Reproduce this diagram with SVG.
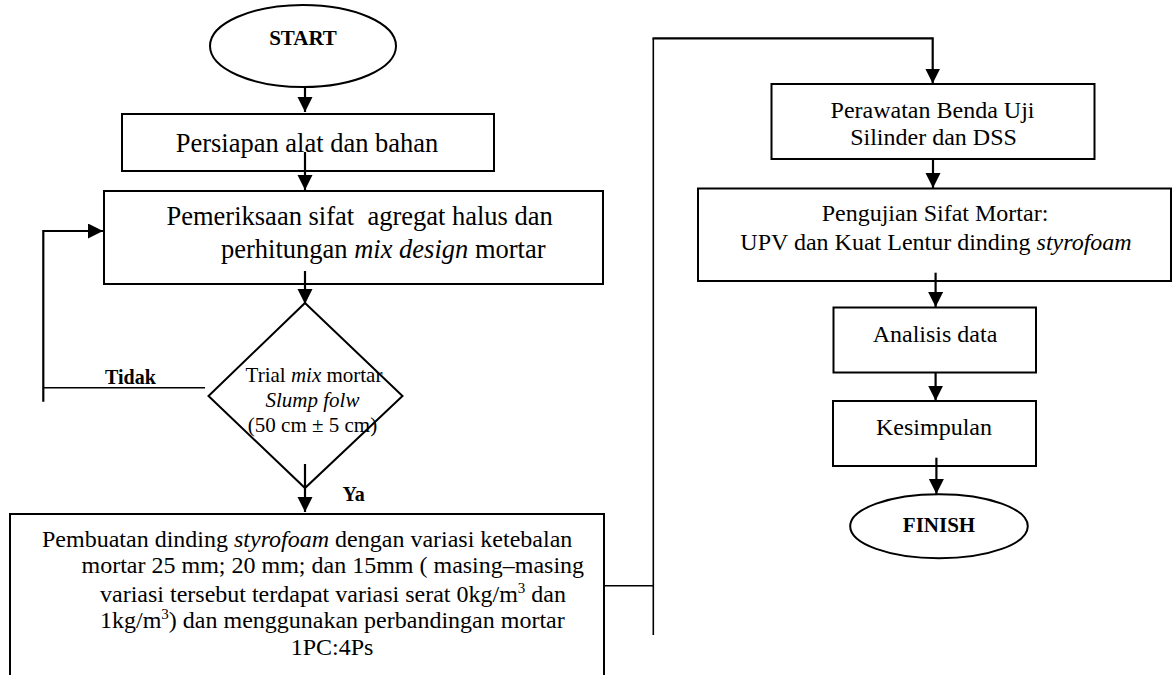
<svg xmlns="http://www.w3.org/2000/svg" width="1172" height="675" viewBox="0 0 1172 675">
<style>
  .shape { fill: #ffffff; stroke: #000000; stroke-width: 2; }
  .conn { fill: none; stroke: #000000; stroke-width: 2.2; }
  .thin { fill: none; stroke: #000000; stroke-width: 1.6; }
  text { font-family: "Liberation Serif", "Times New Roman", serif; fill: #000000; }
  .b { font-weight: bold; }
  .i { font-style: italic; }
  .pre { white-space: pre; }
</style>
<defs>
  <marker id="arrow" markerUnits="userSpaceOnUse" markerWidth="16" markerHeight="16" refX="15" refY="7.5" orient="auto" viewBox="0 0 16 16">
    <path d="M0,0 L15,7.5 L0,15 Z" fill="#000000"/>
  </marker>
</defs>
<rect width="1172" height="675" fill="#ffffff"/>

<g id="start">
  <ellipse class="shape" cx="303" cy="46" rx="93" ry="41"/>
  <text x="303" y="45" font-size="21" class="b" text-anchor="middle">START</text>
</g>

<g id="persiapan">
  <rect class="shape" x="122" y="114" width="372" height="57"/>
  <text x="307" y="152" font-size="26.5" text-anchor="middle">Persiapan alat dan bahan</text>
</g>

<g id="pemeriksaan">
  <rect class="shape" x="104" y="191" width="499" height="93"/>
  <text x="166.5" y="225" font-size="26.5" class="pre">Pemeriksaan sifat  agregat halus dan</text>
  <text x="221" y="258" font-size="26.5">perhitungan <tspan class="i">mix design</tspan> mortar</text>
</g>

<g id="trial">
  <polygon class="shape" points="305,303 402.5,396 305,488 208.5,396"/>
  <text x="314" y="381.7" font-size="21" text-anchor="middle">Trial <tspan class="i">mix</tspan> mortar</text>
  <text x="312.5" y="407" font-size="21" class="i" text-anchor="middle">Slump folw</text>
  <text x="312.5" y="431.7" font-size="21" text-anchor="middle">(50 cm ± 5 cm)</text>
</g>

<g id="pembuatan">
  <rect class="shape" x="10" y="514" width="594" height="200"/>
  <text x="42" y="546.7" font-size="24">Pembuatan dinding <tspan class="i">styrofoam</tspan> dengan variasi ketebalan</text>
  <text x="81.5" y="573.3" font-size="24">mortar 25 mm; 20 mm; dan 15mm ( masing–masing</text>
  <text x="100" y="601.7" font-size="24">variasi tersebut terdapat variasi serat 0kg/m<tspan font-size="15" dy="-9">3</tspan><tspan dy="9"> dan</tspan></text>
  <text x="100" y="628.3" font-size="24">1kg/m<tspan font-size="15" dy="-9">3</tspan><tspan dy="9">) dan menggunakan perbandingan mortar</tspan></text>
  <text x="332" y="655" font-size="24" text-anchor="middle">1PC:4Ps</text>
</g>

<g id="perawatan">
  <rect class="shape" x="771.5" y="84" width="323" height="75"/>
  <text x="932.5" y="118" font-size="24" text-anchor="middle">Perawatan Benda Uji</text>
  <text x="933.5" y="145" font-size="24" text-anchor="middle">Silinder dan DSS</text>
</g>

<g id="pengujian">
  <rect class="shape" x="698" y="188.5" width="473" height="92.5"/>
  <text x="935" y="220.7" font-size="24" text-anchor="middle">Pengujian Sifat Mortar:</text>
  <text x="936" y="250" font-size="24" text-anchor="middle">UPV dan Kuat Lentur dinding <tspan class="i">styrofoam</tspan></text>
</g>

<g id="analisis">
  <rect class="shape" x="833.5" y="307.5" width="202.5" height="65"/>
  <text x="935" y="341.7" font-size="24" text-anchor="middle">Analisis data</text>
</g>

<g id="kesimpulan">
  <rect class="shape" x="833" y="401" width="203" height="65"/>
  <text x="934" y="435" font-size="24" text-anchor="middle">Kesimpulan</text>
</g>

<g id="finish">
  <ellipse class="shape" cx="939" cy="526.3" rx="88.8" ry="32"/>
  <text x="939" y="531.7" font-size="21" class="b" text-anchor="middle">FINISH</text>
</g>

<g id="connectors">
  <line class="conn" x1="305" y1="87" x2="305" y2="112" marker-end="url(#arrow)"/>
  <line class="conn" x1="305" y1="152" x2="305" y2="190" marker-end="url(#arrow)"/>
  <line class="conn" x1="305" y1="271" x2="305" y2="304" marker-end="url(#arrow)"/>
  <line class="conn" x1="305" y1="464" x2="305" y2="512" marker-end="url(#arrow)"/>
  <polyline class="conn" points="43.3,401.7 43.3,231 103,231" marker-end="url(#arrow)"/>
  <line class="thin" x1="43.3" y1="387.7" x2="205" y2="387.7"/>
  <text x="105" y="384" font-size="20" class="b">Tidak</text>
  <text x="342.5" y="500.7" font-size="20" class="b">Ya</text>
  <polyline class="thin" points="604,585.7 653.3,585.7"/>
  <line class="thin" x1="653.3" y1="635" x2="653.3" y2="38.3"/>
  <polyline class="conn" points="652.5,38.3 932.7,38.3 932.7,83.5" marker-end="url(#arrow)"/>
  <line class="conn" x1="933" y1="159" x2="933" y2="188" marker-end="url(#arrow)"/>
  <line class="conn" x1="935.6" y1="272.7" x2="935.6" y2="307" marker-end="url(#arrow)"/>
  <line class="conn" x1="935.6" y1="372" x2="935.6" y2="400.7" marker-end="url(#arrow)"/>
  <line class="conn" x1="936.4" y1="457.7" x2="936.4" y2="494" marker-end="url(#arrow)"/>
</g>
</svg>
